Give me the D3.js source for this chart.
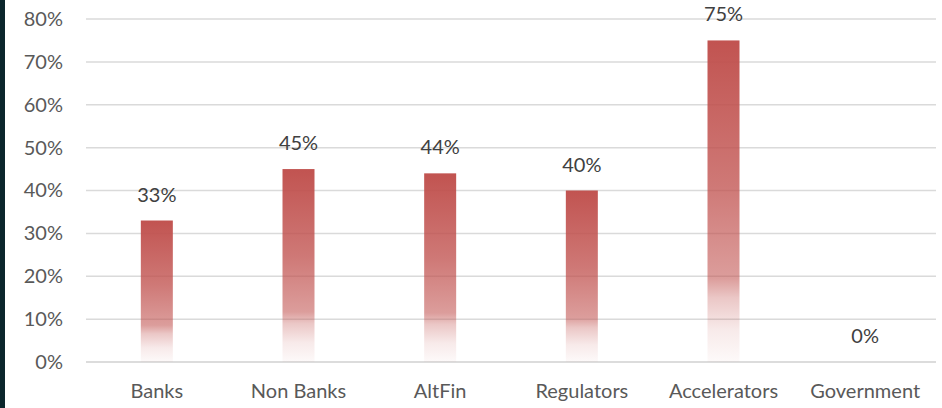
<!DOCTYPE html>
<html>
<head>
<meta charset="utf-8">
<script src="https://cdn.jsdelivr.net/npm/d3@7"></script>
<style>
  html, body { margin: 0; padding: 0; background: #fff; }
  svg { display: block; }
  text { font-family: Lato, "Open Sans", sans-serif; }
</style>
</head>
<body>
<script>
// Share of respondents by institution type
const categories = ["Banks", "Non Banks", "AltFin", "Regulators", "Accelerators", "Government"];
const values = [33, 45, 44, 40, 75, 0];
const yTicks = [0, 10, 20, 30, 40, 50, 60, 70, 80];

const W = 942, H = 408;
const plot = { left: 86, right: 936, top: 19, bottom: 362 };
const barWidth = 32;

const svg = d3.select("body").append("svg")
  .attr("width", W).attr("height", H);

// dark edge strip on the left
svg.append("rect").attr("x", 0).attr("y", 0).attr("width", 5).attr("height", H)
  .attr("fill", "#0b262c");

const x = d3.scaleBand().domain(categories).range([plot.left, plot.right]).padding(0);
const y = d3.scaleLinear().domain([0, 80]).range([plot.bottom, plot.top]);

// vertical fade for the columns
const defs = svg.append("defs");
const grad = defs.append("linearGradient").attr("id", "barFade")
  .attr("x1", 0).attr("y1", 0).attr("x2", 0).attr("y2", 1);
[[0, 0.98], [0.45, 0.77], [0.74, 0.56], [0.8, 0.32], [0.9, 0.12], [1, 0.03]].forEach(([o, a]) => {
  grad.append("stop").attr("offset", o).attr("stop-color", "#c0504d").attr("stop-opacity", a);
});

// gridlines
svg.append("g").selectAll("line").data(yTicks).join("line")
  .attr("x1", plot.left).attr("x2", plot.right)
  .attr("y1", d => y(d)).attr("y2", d => y(d))
  .attr("stroke", d => d === 0 ? "#d0d0d0" : "#dadada")
  .attr("stroke-width", 1.5);

// y axis labels
const yAxis = d3.axisLeft(y).tickValues(yTicks).tickFormat(d => d + "%").tickSize(0).tickPadding(0);
const gy = svg.append("g").attr("transform", `translate(${plot.left - 23},0)`).call(yAxis);
gy.select(".domain").remove();
gy.selectAll("text").attr("fill", "#595959").style("font-size", "20px")
  .style("font-family", "Lato, 'Open Sans', sans-serif");

// x axis labels
const xAxis = d3.axisBottom(x).tickSize(0).tickPadding(0);
const gx = svg.append("g").attr("transform", `translate(0,${plot.bottom + 22})`).call(xAxis);
gx.select(".domain").remove();
gx.selectAll("text").attr("fill", "#595959").style("font-size", "20px")
  .style("font-family", "Lato, 'Open Sans', sans-serif");

// columns
svg.append("g").selectAll("rect").data(values).join("rect")
  .attr("x", (d, i) => x(categories[i]) + x.bandwidth() / 2 - barWidth / 2)
  .attr("width", barWidth)
  .attr("y", d => y(d))
  .attr("height", d => y(0) - y(d))
  .attr("fill", "url(#barFade)");

// value labels
svg.append("g").selectAll("text").data(values).join("text")
  .attr("x", (d, i) => x(categories[i]) + x.bandwidth() / 2)
  .attr("y", d => y(d) - 19)
  .attr("text-anchor", "middle")
  .attr("fill", "#404040")
  .style("font-size", "20px")
  .text(d => d + "%");
</script>
</body>
</html>
